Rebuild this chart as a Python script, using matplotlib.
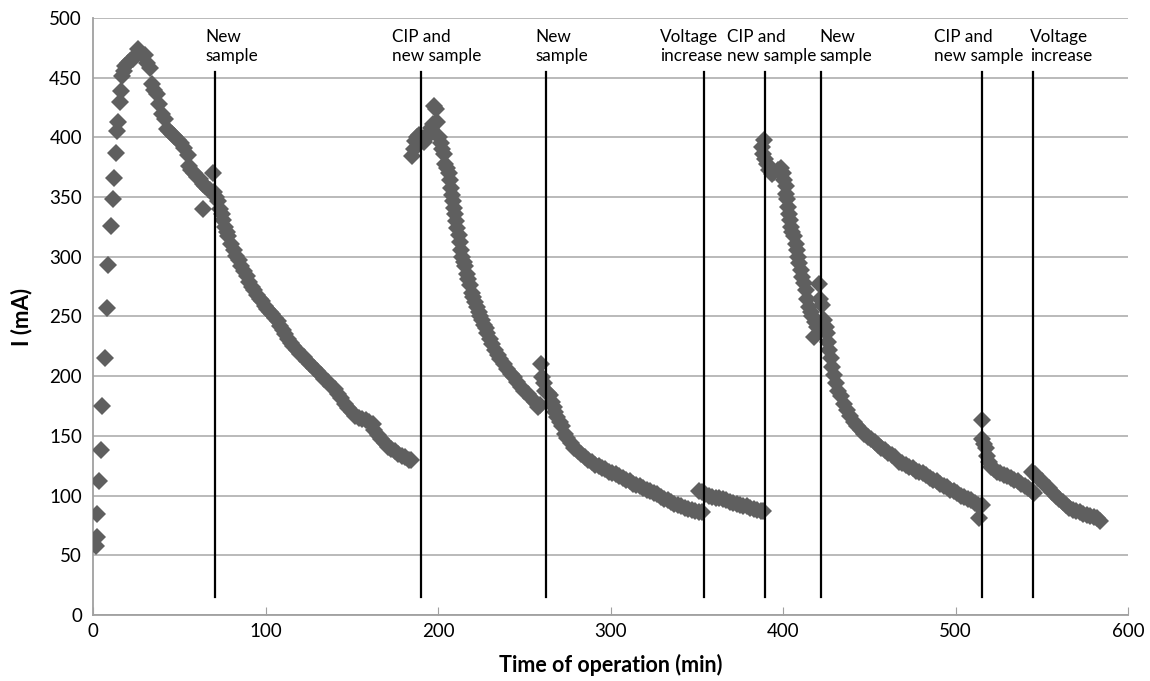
import numpy as np
import matplotlib.pyplot as plt

plt.rcParams['font.family'] = ['Lato', 'DejaVu Sans']

# current readings, one block per run between events
t1 = [1.5, 2.2, 2.5, 3.5, 4.5, 5.3, 7.0, 8.3, 8.9, 10.2, 11.5, 12.3, 13.2, 14.1, 14.7, 15.7,
      16.3, 17.0, 18.0, 18.8, 20.0, 21.5, 23.0, 24.5, 26.3, 28.0, 30.0, 31.5, 33.0, 34.0,
      35.5, 37.0, 38.5, 40.0, 41.5, 42.7, 44.0, 45.5, 47.0, 49.0, 51.0, 53.0, 55.0, 55.5,
      57.0, 58.5, 60.0, 62.0, 64.0, 63.5, 65.0, 66.5, 68.0, 69.8, 70.0, 71.5, 72.7, 73.7,
      74.6, 75.6, 76.6, 77.5, 78.5, 80.0, 81.5, 83.0, 84.5, 86.0, 87.5, 89.0, 90.5, 92.0,
      93.5, 95.0, 96.5, 98.0, 99.5, 101.0, 102.5, 104.0, 105.5, 107.0, 108.5, 110.0, 111.5,
      113.0, 114.5, 116.0, 118.0, 120.0, 122.0, 124.0, 126.0, 128.0, 130.0, 132.0, 134.0,
      136.0, 138.0, 140.0, 142.0, 144.0, 146.0, 148.0, 150.0, 152.0, 154.0, 156.0, 158.0,
      160.0, 162.0, 163.0, 165.0, 167.0, 169.0, 171.0, 173.0, 175.0, 177.0, 179.0, 181.0,
      183.0, 184.5]
i1 = [58, 65, 85, 112, 138, 175, 215, 257, 293, 326, 348, 366, 387, 405, 413, 430,
      439, 451, 456, 460, 462, 464, 466, 468, 474, 471, 469, 462, 458, 445,
      440, 436, 428, 420, 415, 407, 405, 403, 401, 398, 395, 391, 385, 376,
      373, 370, 367, 365, 340, 361, 359, 357, 356, 370, 354, 350, 347, 340,
      336, 331, 325, 321, 317, 311, 306, 301, 297, 292, 288, 284, 279, 275,
      272, 268, 265, 263, 259, 256, 254, 252, 249, 246, 242, 239, 235,
      231, 228, 225, 222, 219, 216, 213, 210, 207, 204, 201, 198,
      195, 192, 189, 185, 182, 177, 173, 170, 167, 165, 164, 163,
      162, 160, 155, 151, 147, 144, 141, 139, 137, 135, 133, 132,
      130, 130]

t2 = [185.0, 186.0, 186.8, 188.0, 189.0, 190.5, 192.0, 193.5, 195.0, 196.0, 197.0, 197.8,
      198.8, 199.5, 200.5, 201.5, 202.5, 203.3, 204.2, 205.2, 206.1, 206.8, 207.4, 208.0,
      208.6, 209.2, 209.9, 210.6, 211.2, 211.9, 212.6, 213.3, 214.0, 214.8, 215.7, 216.6,
      217.5, 218.5, 219.5, 220.5, 221.5, 222.5, 223.5, 224.5, 225.5, 226.5, 227.5, 228.5,
      230.0, 231.5, 233.0, 234.5, 236.0, 238.0, 240.0, 242.0, 244.0, 246.0, 248.0, 250.0,
      252.0, 254.0, 256.0, 258.0, 259.0]
i2 = [384, 390, 397, 400, 402, 399, 396, 400, 404, 408, 411, 426,
      424, 413, 400, 395, 390, 386, 378, 374, 370, 364, 358, 352,
      347, 341, 336, 330, 324, 318, 312, 306, 300, 296, 292, 286,
      281, 276, 270, 266, 262, 258, 254, 250, 247, 243, 240, 236,
      231, 227, 222, 218, 214, 210, 206, 202, 199, 195, 191, 188,
      185, 182, 178, 174, 176]

t3 = [259.5, 260.3, 261.2, 262.0, 263.5, 265.0, 266.0, 267.0, 268.0, 269.0, 270.5, 272.0,
      273.5, 275.0, 277.0, 279.0, 281.0, 283.0, 285.0, 287.0, 289.0, 291.0, 293.0, 295.0,
      297.0, 299.0, 301.0, 303.0, 305.0, 307.0, 309.0, 311.0, 313.0, 315.0, 317.0, 319.0,
      321.0, 323.0, 325.0, 327.0, 329.0, 331.0, 333.0, 335.0, 337.0, 339.0, 341.0, 343.0,
      345.0, 347.0, 349.0, 351.0, 353.0]
i3 = [210, 199, 194, 188, 186, 184, 178, 174, 170, 166, 162, 158,
      152, 148, 144, 140, 137, 135, 132, 130, 128, 126, 125, 123,
      122, 120, 119, 118, 116, 115, 113, 112, 110, 109, 108, 106,
      105, 104, 102, 101, 99, 97, 96, 95, 93, 92, 91, 90,
      89, 88, 87, 86, 86]

t4 = [351.5, 353.0, 355.0, 357.0, 359.0, 361.0, 363.0, 365.0, 367.0, 369.0, 371.0, 373.0,
      375.0, 377.0, 379.0, 381.0, 383.0, 385.0, 387.0, 388.5]
i4 = [104, 103, 101, 100, 99, 98, 98, 97, 96, 95, 94, 93,
      92, 91, 91, 90, 89, 88, 87, 87]

t5 = [388.8, 388.0, 388.5, 389.5, 390.7, 392.0, 393.6, 395.0, 397.0, 398.5, 400.0, 400.8,
      401.4, 401.9, 402.4, 402.9, 403.3, 403.8, 404.3, 405.2, 406.2, 407.2, 408.2, 408.7,
      409.1, 410.1, 411.1, 412.0, 413.0, 414.0, 415.0, 416.0, 416.9, 417.9, 418.5, 419.5,
      420.7, 421.5, 422.7, 423.6, 424.6, 425.6, 426.0, 426.5, 427.5, 428.5, 429.5, 430.4,
      431.8, 433.3, 435.2, 437.2, 439.0, 441.0, 443.0, 445.0, 447.0, 449.0, 451.0, 453.0,
      455.0, 457.0, 459.0, 461.0, 463.0, 465.0, 467.0, 469.0, 471.0, 473.0, 475.0, 477.0,
      479.0, 481.0, 483.0, 485.0, 487.0, 489.0, 491.0, 493.0, 495.0, 497.0, 499.0, 501.0,
      503.0, 505.0, 507.0, 509.0, 511.0, 513.0, 513.5, 515.0]
i5 = [398, 392, 386, 382, 378, 373, 369, 371, 373, 374, 370, 364,
      359, 353, 348, 342, 336, 331, 325, 321, 317, 311, 306, 300,
      295, 289, 283, 278, 272, 265, 258, 254, 250, 233, 245, 241,
      277, 265, 260, 247, 241, 236, 229, 222, 215, 208, 201, 194,
      188, 183, 177, 172, 167, 162, 158, 155, 152, 149, 147, 145,
      142, 140, 138, 136, 134, 132, 128, 127, 126, 124, 123, 121,
      120, 119, 117, 115, 113, 112, 110, 108, 107, 105, 104, 102,
      100, 99, 97, 96, 94, 92, 81, 92]

t6 = [515.5, 515.5, 516.4, 517.4, 518.4, 519.3, 520.3, 522.0, 524.0, 526.0, 528.0, 530.0,
      532.0, 534.0, 536.0, 538.0, 540.0, 542.0, 544.0, 545.5]
i6 = [163, 147, 143, 140, 133, 128, 124, 122, 120, 119, 117, 116,
      115, 113, 112, 110, 108, 106, 104, 102]

t7 = [544.4, 546.0, 548.0, 550.0, 552.0, 554.0, 556.0, 558.0, 560.0, 562.0, 564.0, 566.0,
      568.0, 570.0, 572.0, 574.0, 576.0, 578.0, 580.0, 582.0, 583.5]
i7 = [120, 118, 115, 112, 109, 106, 103, 100, 97, 95, 92, 90,
      88, 87, 86, 85, 84, 83, 82, 81, 79]

# events during the run
event_t = [70.8, 190.0, 262.6, 354.3, 389.4, 421.7, 515.5, 545.1]
event_labels = ['New\nsample', 'CIP and\nnew sample', 'New\nsample', 'Voltage\nincrease',
                'CIP and\nnew sample', 'New\nsample', 'CIP and\nnew sample', 'Voltage\nincrease']
label_x = [65.0, 173.3, 256.2, 328.7, 367.5, 421.0, 487.5, 543.0]

fig = plt.figure(figsize=(11.5, 6.81), dpi=100)
ax = fig.add_axes([0.0809, 0.0969, 0.9001, 0.8767])

t_all = np.concatenate([t1, t2, t3, t4, t5, t6, t7])
i_all = np.concatenate([i1, i2, i3, i4, i5, i6, i7])
ax.plot(t_all, i_all, linestyle='none', marker='D', markersize=8.8,
        color='#5f5f5f', markeredgewidth=0, zorder=3)

for x in event_t:
    ax.plot([x, x], [15, 455], color='black', linewidth=1.6, zorder=4)
for x, lab in zip(label_x, event_labels):
    ax.text(x, 476, lab, ha='left', va='center', fontsize=12.3, linespacing=1.2)

ax.set_xlim(0, 600)
ax.set_ylim(0, 500)
ax.set_xticks(np.arange(0, 601, 100))
ax.set_yticks(np.arange(0, 501, 50))
ax.grid(axis='y', color='#b4b4b4', linewidth=1.3)
ax.set_axisbelow(True)
for s in ['top', 'right']:
    ax.spines[s].set_visible(False)
for s in ['left', 'bottom']:
    ax.spines[s].set_color('#a0a0a0')
    ax.spines[s].set_linewidth(1.3)
ax.tick_params(axis='x', direction='in', length=6, color='#a0a0a0', labelsize=13.5, pad=6)
ax.tick_params(axis='y', length=0, labelsize=13.5, pad=8)

ax.set_xlabel('Time of operation (min)', fontsize=15.5, fontweight='bold', labelpad=10)
ax.set_ylabel('I (mA)', fontsize=16, fontweight='bold', labelpad=12)

fig.savefig('out.png', dpi=100)
